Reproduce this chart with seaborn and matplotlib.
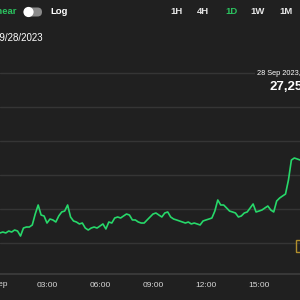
import numpy as np
import pandas as pd
import matplotlib
matplotlib.use("Agg")
import matplotlib.pyplot as plt
import seaborn as sns
from matplotlib.patches import FancyBboxPatch, Circle, Rectangle

# ---- data (BTC-like price, 28 Sep 2023, 10-minute samples from 00:20) ----
start_time = "2023-09-28 00:20"
prices = [
    26318, 26329, 26318, 26341, 26329, 26353, 26341, 26282, 26376, 26388,
    26388, 26412, 26541, 26647, 26529, 26518, 26435, 26482, 26471, 26447,
    26518, 26565, 26576, 26647, 26506, 26459, 26447, 26424, 26435, 26376,
    26353, 26376, 26388, 26376, 26400, 26424, 26365, 26447, 26435, 26494,
    26506, 26494, 26518, 26541, 26529, 26471, 26471, 26447, 26435, 26435,
    26471, 26506, 26541, 26553, 26529, 26506, 26553, 26565, 26506, 26482,
    26471, 26459, 26447, 26435, 26447, 26424, 26435, 26424, 26412, 26459,
    26471, 26482, 26494, 26576, 26706, 26647, 26647, 26612, 26576, 26565,
    26553, 26506, 26518, 26553, 26565, 26612, 26659, 26565, 26576, 26588,
    26612, 26635, 26588, 26565, 26694, 26729, 26753, 26776, 26941, 27176,
    27200, 27188, 27176,
]
times = pd.date_range(start_time, periods=len(prices), freq="10min")
grid_levels = [26200, 26600, 27000, 27400, 27800, 28200]
x_tick_hours = [3, 6, 9, 12, 15]
x_tick_labels = ["03:00", "06:00", "09:00", "12:00", "15:00"]
day_label = "28 Sep"
range_buttons = ["1H", "4H", "1D", "1W", "1M"]
active_button = "1D"
date_header = "09/28/2023"
tooltip_date = "28 Sep 2023, 17:20"
tooltip_price = "27,256.41"

df = pd.DataFrame({
    "hour": (times - pd.Timestamp("2023-09-28")).total_seconds() / 3600.0,
    "price": prices,
})

BG = "#202020"
GRID = "#353535"
GREEN = "#27d86a"
W, H = 300, 300

sns.set_theme(style="dark")
plt.rcParams["font.family"] = ["Liberation Sans", "DejaVu Sans"]

fig = plt.figure(figsize=(3, 3), dpi=100, facecolor=BG)
# axes: x from 0 to 300 px, y from 55 px (top) to 274 px (bottom)
ax = fig.add_axes([0, (H - 274) / H, 1, (274 - 55) / H])
ax.set_facecolor(BG)

sns.lineplot(data=df, x="hour", y="price", ax=ax, color=GREEN, linewidth=1.2)

px_per_price = 34 / 400.0
ax.set_ylim(26200 - 31 / px_per_price, 26200 + 188 / px_per_price)
hr_per_px = 3 / 53.0
ax.set_xlim(6 * hr_per_px, 306 * hr_per_px)

ax.set_yticks(grid_levels)
ax.set_yticklabels([])
ax.set_xticks(x_tick_hours)
ax.set_xticklabels(x_tick_labels, color="#d8d8d8", fontsize=6)
ax.tick_params(axis="both", length=0, pad=6)
ax.grid(axis="y", color=GRID, linewidth=1.0)
ax.grid(axis="x", visible=False)
ax.set_xlabel("")
ax.set_ylabel("")
for s in ["top", "left", "right"]:
    ax.spines[s].set_visible(False)
ax.spines["bottom"].set_color("#3d3d3d")
ax.spines["bottom"].set_linewidth(1.2)


def fx(px):
    return px / W


def fy(py):
    return 1 - py / H


# day label partially cropped on the left
fig.text(fx(-6), fy(285), day_label, ha="center", va="center",
         color="#d8d8d8", fontsize=6)

# header row
fig.text(fx(17), fy(12), "Linear", ha="right", va="center", color="#2bc25f",
         fontsize=6.8, fontweight="bold")
pill = FancyBboxPatch((fx(24), fy(16.5)), fx(18), 9 / H,
                      boxstyle="round,pad=0,rounding_size=0.015",
                      transform=fig.transFigure, facecolor="#8a8a8a",
                      edgecolor="none")
fig.patches.append(pill)
knob = Circle((fx(28.5), fy(12)), 0.017, transform=fig.transFigure,
              facecolor="white", edgecolor="none")
fig.patches.append(knob)
fig.text(fx(50), fy(12), "Log", ha="left", va="center", color="white",
         fontsize=6.8, fontweight="bold")

for lbl, cx in zip(range_buttons, [176, 203, 231, 258, 286]):
    fig.text(fx(cx), fy(12), lbl, ha="center", va="center",
             color="#2bc25f" if lbl == active_button else "#e6e6e6",
             fontsize=6.8, fontweight="bold")

fig.text(fx(43), fy(38), date_header, ha="right", va="center",
         color="white", fontsize=7)

# tooltip
fig.text(fx(257), fy(73), tooltip_date, ha="left", va="center",
         color="white", fontsize=5.3,
         bbox=dict(facecolor=BG, edgecolor="none", pad=1.5))
fig.text(fx(269), fy(87), tooltip_price, ha="left", va="center",
         color="white", fontsize=9.5, fontweight="bold")

# small yellow marker on the right
marker = Rectangle((fx(296), fy(252)), fx(7), 12 / H,
                   transform=fig.transFigure, facecolor="none",
                   edgecolor="#b08e2c", linewidth=1.0)
fig.patches.append(marker)

fig.savefig("out.png", dpi=100, facecolor=BG)
